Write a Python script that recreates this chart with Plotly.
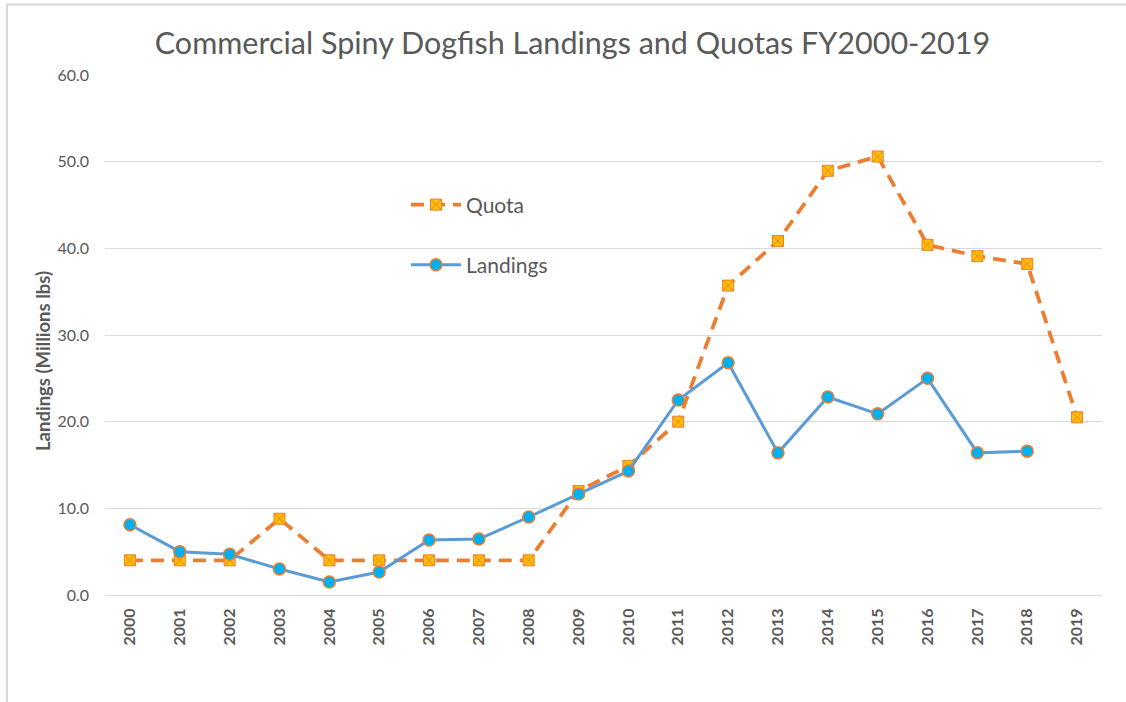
import plotly.graph_objects as go

years = [str(y) for y in range(2000, 2020)]
landings = [8.1, 5.0, 4.7, 3.0, 1.5, 2.65, 6.35, 6.45, 9.0, 11.65, 14.3, 22.5, 26.8, 16.4, 22.85, 20.9, 25.0, 16.4, 16.6, None]
quota = [4.0, 4.0, 4.0, 8.8, 4.0, 4.0, 4.0, 4.0, 4.0, 12.0, 14.9, 20.0, 35.7, 40.85, 48.95, 50.6, 40.4, 39.1, 38.2, 20.5]

W, H = 1126, 702
L, R, T, B = 105, 1102, 75, 595
def px(x):
    return (x - L) / (R - L)
def py(y):
    return (B - y) / (B - T)

GRAY = "#595959"
FONT = "Lato"

fig = go.Figure()
fig.add_trace(go.Scatter(
    x=years, y=quota, name="Quota", mode="lines+markers",
    line=dict(color="#ED7D31", width=3.75, dash="13px,8px"),
    marker=dict(symbol="square-x", size=11, color="#FFC000",
                line=dict(color="#ED7D31", width=1)),
    legend="legend",
))
fig.add_trace(go.Scatter(
    x=years, y=landings, name="Landings", mode="lines+markers",
    line=dict(color="#5B9BD5", width=3),
    marker=dict(symbol="circle", size=12, color="#00B0F0",
                line=dict(color="#ED7D31", width=1.5)),
    legend="legend2",
))

fig.update_layout(
    width=W, height=H,
    margin=dict(l=L, r=W - R, t=T, b=H - B),
    paper_bgcolor="white", plot_bgcolor="white",
    font=dict(family=FONT, color=GRAY),
    title=dict(text="Commercial Spiny Dogfish Landings and Quotas FY2000-2019",
               x=572.5 / W, xanchor="center", xref="container",
               y=1 - 43 / H, yanchor="middle", yref="container",
               font=dict(family=FONT, size=30.5, color=GRAY)),
    xaxis=dict(type="category", tickangle=-90, showgrid=False,
               showline=True, linecolor="#D9D9D9", linewidth=1,
               ticks="", tickfont=dict(family=FONT, size=16, color=GRAY, weight="bold"),
               ticklabelstandoff=6, range=[-0.5, 19.5], fixedrange=True),
    yaxis=dict(range=[0, 60], dtick=10, tickformat=".1f", showgrid=True,
               gridcolor="#D9D9D9", gridwidth=1, zeroline=False,
               showline=False, ticks="",
               tickfont=dict(family=FONT, size=16, color=GRAY),
               ticklabelstandoff=15),
    legend=dict(x=px(406), y=py(205), xanchor="left", yanchor="middle", itemwidth=50,
                bgcolor="rgba(0,0,0,0)", font=dict(family=FONT, size=21, color=GRAY)),
    legend2=dict(x=px(406), y=py(265), xanchor="left", yanchor="middle", itemwidth=50,
                 bgcolor="rgba(0,0,0,0)", font=dict(family=FONT, size=21, color=GRAY)),
    showlegend=True,
)

fig.add_annotation(text="<b>Landings (Millions lbs)</b>", textangle=-90,
                   xref="paper", yref="paper", x=px(43), y=py(361),
                   xanchor="center", yanchor="middle",
                   showarrow=False, font=dict(family=FONT, size=18.5, color=GRAY))

# outer chart frame
fig.add_shape(type="line", xref="paper", yref="paper",
              x0=px(7), x1=px(7), y0=py(4), y1=py(702),
              line=dict(color="#D9D9D9", width=2))
fig.add_shape(type="line", xref="paper", yref="paper",
              x0=px(6), x1=px(1126), y0=py(4.5), y1=py(4.5),
              line=dict(color="#D9D9D9", width=2))

fig.write_html("out.html", config={"displayModeBar": False},
               post_script="document.body.style.margin='0';")
